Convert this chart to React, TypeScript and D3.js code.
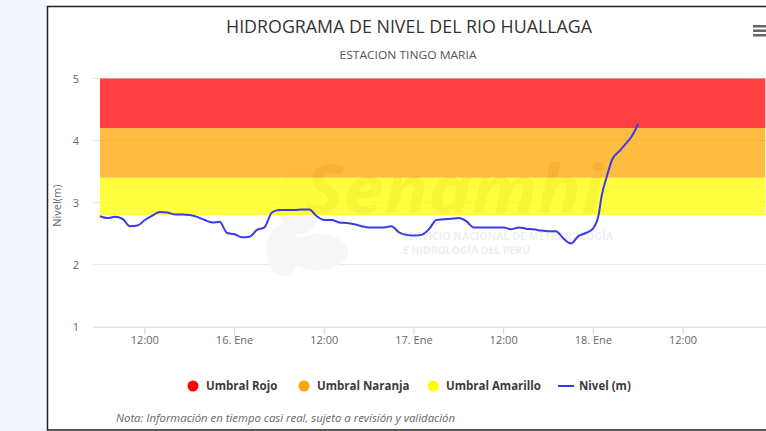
import React from 'react';
import * as d3 from 'd3';

// horas desde 15 Ene 06:00
const horas = [
  0, 1, 2, 3, 4, 5, 6, 7, 8, 9, 10, 11, 12, 13, 14, 15, 16, 17, 18, 19, 20,
  21, 22, 23, 24, 25, 26, 27, 28, 29, 30, 31, 32, 33, 34, 35, 36, 37, 38, 39,
  40, 41, 42, 43, 44, 45, 46, 47, 48, 49, 50, 51, 52, 53, 54, 55, 56, 57, 58,
  59, 60, 61, 62, 63, 64, 65, 66, 66.7, 67.1, 67.8, 68.5, 69.4, 70.2, 71.1, 72,
];
const nivel = [
  2.78, 2.75, 2.77, 2.74, 2.62, 2.63, 2.72, 2.79, 2.85, 2.84, 2.81, 2.81, 2.8,
  2.77, 2.72, 2.68, 2.69, 2.51, 2.49, 2.44, 2.45, 2.56, 2.6, 2.84, 2.88, 2.88,
  2.88, 2.89, 2.89, 2.78, 2.72, 2.72, 2.68, 2.67, 2.65, 2.62, 2.6, 2.6, 2.6,
  2.62, 2.52, 2.48, 2.47, 2.48, 2.57, 2.72, 2.73, 2.74, 2.75, 2.7, 2.6, 2.6,
  2.6, 2.6, 2.6, 2.57, 2.6, 2.58, 2.57, 2.55, 2.54, 2.54, 2.42, 2.34, 2.46,
  2.51, 2.59, 2.8, 3.1, 3.42, 3.69, 3.82, 3.93, 4.06, 4.27,
];

const umbrales = [
  { nombre: 'Umbral Rojo', desde: 4.2, hasta: 5, color: '#ff0000' },
  { nombre: 'Umbral Naranja', desde: 3.4, hasta: 4.2, color: '#ffa500' },
  { nombre: 'Umbral Amarillo', desde: 2.8, hasta: 3.4, color: '#ffff00' },
];
const umbralHoras = [0, 89];
const yTicks = [1, 2, 3, 4, 5];

const inicio = new Date(2024, 0, 15, 6);
const enHoras = (h: number) => new Date(inicio.getTime() + h * 3600 * 1000);

const W = 766;
const H = 431;
const font = "'Open Sans', Arial, sans-serif";

export default function App() {
  const plotLeft = 93;
  const plotRight = 766;
  const x = d3.scaleTime().domain([enHoras(0), enHoras(90)]).range([100, 100 + 90 * 7.475]);
  const y = d3.scaleLinear().domain([1, 5]).range([326.7, 78.5]);

  const xTicks = d3.range(6, 90, 12).map(enHoras);
  const fmt = (d: Date) => (d.getHours() === 0 ? `${d.getDate()}. Ene` : d3.timeFormat('%H:%M')(d));

  const line = d3
    .line<number>()
    .x((_, i) => x(enHoras(horas[i])))
    .y((v) => y(v))
    .curve(d3.curveMonotoneX);

  const legendItems = [
    { label: 'Umbral Rojo', color: '#ff0000', x: 193, type: 'dot' },
    { label: 'Umbral Naranja', color: '#ffa500', x: 304, type: 'dot' },
    { label: 'Umbral Amarillo', color: '#ffff00', x: 433, type: 'dot' },
    { label: 'Nivel (m)', color: '#3a3ae8', x: 566, type: 'line' },
  ];

  return (
    <svg
      width={W}
      height={H}
      style={{ position: 'absolute', left: 0, top: 0, fontFamily: font }}
    >
      <rect width={W} height={H} fill="#fff" />
      <rect x={0} y={0} width={47} height={H} fill="#f2f5fb" />
      <rect x={47.5} y={6.5} width={740} height={423.5} fill="#fff" stroke="#222" strokeWidth={1.5} />

      {/* titulo */}
      <text x={409} y={33} textAnchor="middle" fontSize={18} fill="#333" textLength={366} lengthAdjust="spacingAndGlyphs">
        HIDROGRAMA DE NIVEL DEL RIO HUALLAGA
      </text>
      <text x={408} y={59} textAnchor="middle" fontSize={11} fill="#555" textLength={137} lengthAdjust="spacingAndGlyphs">
        ESTACION TINGO MARIA
      </text>

      {/* menu */}
      {[0, 1, 2].map((i) => (
        <rect key={i} x={753} y={25 + i * 4.5} width={14} height={2.5} fill="#666" />
      ))}

      {/* grid */}
      {yTicks.map((t) => (
        <g key={t}>
          {t > 1 && <line x1={plotLeft} x2={plotRight} y1={y(t)} y2={y(t)} stroke="#e6e6e6" />}
          <text x={79} y={y(t) + 4} textAnchor="end" fontSize={11} fill="#666">
            {t}
          </text>
        </g>
      ))}

      {/* marca de agua */}
      <g>
        <ellipse cx={300} cy={200} rx={22} ry={34} fill="#f6f6f6" />
        <ellipse cx={318} cy={252} rx={30} ry={18} fill="#f7f7f7" />
        <ellipse cx={283} cy={250} rx={16} ry={26} fill="#f7f7f7" />
        <text x={305} y={213} fontSize={66} fontWeight="bold" fontStyle="italic" fill="#dcdcdc" textLength={298} lengthAdjust="spacingAndGlyphs">
          Senamhi
        </text>
        <text x={403} y={240} fontSize={11} fontWeight="bold" fill="#efefef" textLength={210} lengthAdjust="spacingAndGlyphs">
          SERVICIO NACIONAL DE METEOROLOGÍA
        </text>
        <text x={403} y={254} fontSize={11} fontWeight="bold" fill="#efefef" textLength={127} lengthAdjust="spacingAndGlyphs">
          E HIDROLOGÍA DEL PERÚ
        </text>
      </g>

      {/* umbrales */}
      {umbrales.map((u) => (
        <rect
          key={u.nombre}
          x={x(enHoras(umbralHoras[0]))}
          y={y(u.hasta)}
          width={x(enHoras(umbralHoras[1])) - x(enHoras(umbralHoras[0]))}
          height={y(u.desde) - y(u.hasta)}
          fill={u.color}
          fillOpacity={0.75}
        />
      ))}

      {/* eje x */}
      <line x1={plotLeft} x2={plotRight} y1={y(1) + 0.5} y2={y(1) + 0.5} stroke="#ccd6eb" />
      {xTicks.map((t) => (
        <g key={t.getTime()} transform={`translate(${x(t)},0)`}>
          <line y1={y(1)} y2={y(1) + 8} stroke="#ccd6eb" />
          <text y={344} textAnchor="middle" fontSize={11} fill="#666">
            {fmt(t)}
          </text>
        </g>
      ))}

      <text
        transform={`translate(61,${y(2.95)}) rotate(-90)`}
        textAnchor="middle"
        fontSize={11}
        fill="#666"
      >
        Nivel(m)
      </text>

      {/* serie */}
      <path d={line(nivel) ?? ''} fill="none" stroke="#3a3ae8" strokeWidth={2} strokeLinejoin="round" />

      {/* leyenda */}
      {legendItems.map((it) => (
        <g key={it.label}>
          {it.type === 'dot' ? (
            <circle cx={it.x} cy={386} r={5.5} fill={it.color} />
          ) : (
            <line x1={it.x - 8} x2={it.x + 8} y1={386} y2={386} stroke={it.color} strokeWidth={2} />
          )}
          <text x={it.x + 13} y={390} fontSize={11.5} fontWeight="bold" fill="#3a3a3a">
            {it.label}
          </text>
        </g>
      ))}

      <text x={116} y={422} fontSize={10} fontStyle="italic" fill="#666" textLength={339} lengthAdjust="spacingAndGlyphs">
        Nota: Información en tiempo casi real, sujeto a revisión y validación
      </text>
    </svg>
  );
}
